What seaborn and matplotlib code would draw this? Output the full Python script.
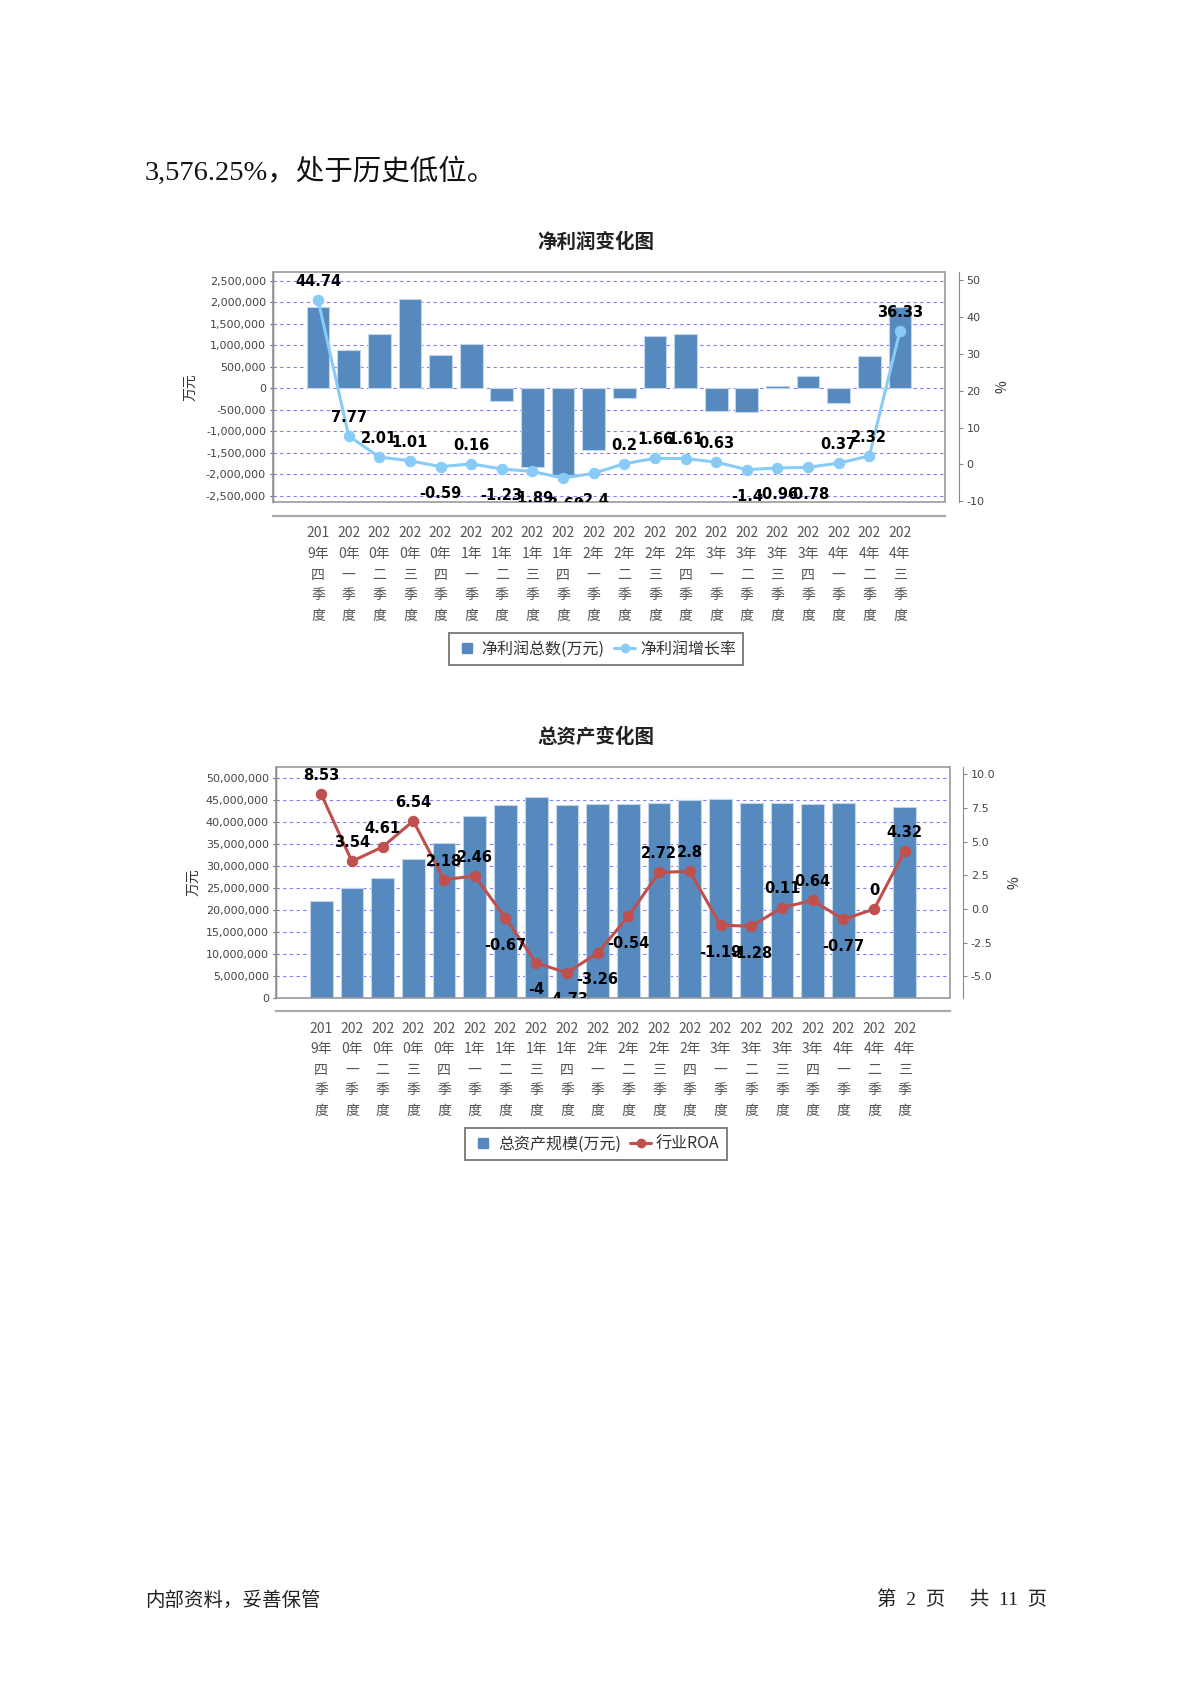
import numpy as np
import pandas as pd
import matplotlib
matplotlib.use("Agg")
import matplotlib.pyplot as plt
import seaborn as sns
from matplotlib.patches import Rectangle
from matplotlib.lines import Line2D
from matplotlib.ticker import FuncFormatter, MultipleLocator
from matplotlib.transforms import blended_transform_factory, ScaledTranslation

# ==============================
# DATA
# ==============================

quarters = [
    "2019年四季度", "2020年一季度", "2020年二季度", "2020年三季度", "2020年四季度",
    "2021年一季度", "2021年二季度", "2021年三季度", "2021年四季度", "2022年一季度",
    "2022年二季度", "2022年三季度", "2022年四季度", "2023年一季度", "2023年二季度",
    "2023年三季度", "2023年四季度", "2024年一季度", "2024年二季度", "2024年三季度",
]

# 净利润总数(万元)
net_profit = [1880000, 885000, 1258000, 2065000, 769000, 1025000, -295000, -1832000,
              -2019000, -1436000, -233000, 1203000, 1258000, -543000, -567000, 47000,
              287000, -342000, 753000, 1879000]
# 净利润增长率(%)
profit_growth = [44.74, 7.77, 2.01, 1.01, -0.59, 0.16, -1.23, -1.89, -3.69, -2.4,
                 0.2, 1.66, 1.61, 0.63, -1.4, -0.96, -0.78, 0.37, 2.32, 36.33]

# 总资产规模(万元), 2024 Q2 has no bar
total_assets = [22100000, 25000000, 27400000, 31700000, 35400000, 41500000, 43900000,
                45800000, 43900000, 44100000, 44100000, 44400000, 45000000, 45200000,
                44500000, 44500000, 44200000, 44400000, np.nan, 43600000]
# 行业ROA(%)
industry_roa = [8.53, 3.54, 4.61, 6.54, 2.18, 2.46, -0.67, -4, -4.73, -3.26,
                -0.54, 2.72, 2.8, -1.19, -1.28, 0.11, 0.64, -0.77, 0, 4.32]

# ==============================
# STYLE
# ==============================

W, H = 1191, 1684
BAR_COLOR = "#5689bd"
BAR_EDGE = "#c3d5ea"
GRID_COLOR = "#7d7dff"
CJK = "Noto Sans CJK SC"

sns.set_style("white")
plt.rcParams["font.family"] = ["DejaVu Sans", CJK]


def wrap_quarter(q):
    """JFreeChart-like wrap: '201' / '9年' / '四' / '季' / '度'."""
    year, rest = q.split("年")
    return f"{year[:3]}\n{year[3:]}年\n" + "\n".join(rest)


def px_rect(left, top, right, bottom):
    """Convert a pixel box on the page to a figure-fraction rect."""
    return [left / W, 1 - bottom / H, (right - left) / W, (bottom - top) / H]


def draw_chart(fig, box, bars, line, line_color, left_lim, left_step, left_fmt,
               right_lim, right_step, right_fmt, names, title, title_y, legend_y,
               outward, pct_x):
    ax1 = fig.add_axes(px_rect(*box))
    n = len(quarters)
    df = pd.DataFrame({"quarter": quarters, "value": bars})
    sns.barplot(data=df, x="quarter", y="value", ax=ax1, color=BAR_COLOR,
                saturation=1, width=0.74, edgecolor=BAR_EDGE, linewidth=0.8,
                errorbar=None)

    ax2 = ax1.twinx()
    idx = np.arange(n)
    sns.lineplot(x=idx, y=line, ax=ax2, color=line_color, marker="o",
                 markersize=7.5, markeredgecolor=line_color, linewidth=2.2,
                 legend=False)

    # value labels, clipped by the plot area like the original
    for i, v in enumerate(line):
        up = v >= 0
        ax2.annotate(f"{v:g}", (i, v), xytext=(0, 8 if up else -14),
                     textcoords="offset points", ha="center",
                     va="bottom" if up else "top", fontsize=10.5,
                     fontweight="bold", color="black", clip_on=True)

    ax1.set_xlim(-1.47, n - 1 + 1.47)
    ax1.set_ylim(*left_lim)
    ax2.set_ylim(*right_lim)
    ax1.yaxis.set_major_locator(MultipleLocator(left_step))
    ax1.yaxis.set_major_formatter(FuncFormatter(left_fmt))
    ax2.yaxis.set_major_locator(MultipleLocator(right_step))
    ax2.yaxis.set_major_formatter(FuncFormatter(right_fmt))

    ax1.set_axisbelow(True)
    ax1.yaxis.grid(True, color=GRID_COLOR, linestyle=(0, (3, 3)), linewidth=0.8)
    ax1.xaxis.grid(False)

    # category labels: wrapped column of text under each tick
    ax1.set_xticks(idx)
    ax1.tick_params(axis="x", length=3, color="#999999", labelbottom=False)
    lab_trans = blended_transform_factory(ax1.transData, ax1.transAxes) + \
        ScaledTranslation(0, -(outward + 7.5) / 72, fig.dpi_scale_trans)
    for i, q in enumerate(quarters):
        ax1.text(i, 0, wrap_quarter(q), transform=lab_trans, ha="center",
                 va="top", fontfamily=CJK, fontsize=10, color="#555555",
                 linespacing=1.6, clip_on=False)

    ax1.tick_params(axis="y", length=2, color="#666666", pad=3, labelsize=8,
                    labelcolor="#444444")
    ax2.tick_params(axis="y", length=3, color="#888888", pad=2.5, labelsize=8,
                    labelcolor="#444444")

    # frame + offset axes
    for s in ["top", "right"]:
        ax1.spines[s].set_visible(False)
    for s in ["top", "left", "bottom"]:
        ax2.spines[s].set_visible(False)
    ax1.spines["left"].set_color("#555555")
    ax1.spines["left"].set_linewidth(1.0)
    ax1.spines["bottom"].set_position(("outward", outward))
    ax1.spines["bottom"].set_color("#aaaaaa")
    ax1.spines["bottom"].set_linewidth(1.6)
    ax2.spines["right"].set_position(("outward", outward))
    ax2.spines["right"].set_color("#888888")
    ax1.add_patch(Rectangle((0, 0), 1, 1, transform=ax1.transAxes, fill=False,
                            edgecolor="#999999", linewidth=1.2, clip_on=False,
                            zorder=5))

    ax1.set_xlabel("")
    ax1.set_ylabel("万元", fontfamily=CJK, fontsize=10, color="#333333")
    ax1.yaxis.set_label_coords(-0.112, 0.5)
    ax2.set_ylabel("%", fontfamily=CJK, fontsize=10, color="#333333", rotation=90)
    ax2.yaxis.set_label_coords(pct_x, 0.5)

    fig.text(596 / W, 1 - title_y / H, title, ha="center", va="center",
             fontfamily=CJK, fontsize=14, fontweight="bold", color="#222222")

    handles = [
        Line2D([], [], marker="s", linestyle="none", color=BAR_COLOR, markersize=7.5),
        Line2D([], [], marker="o", color=line_color, linewidth=2.2, markersize=6),
    ]
    leg = fig.legend(handles, names, loc="center",
                     bbox_to_anchor=(596 / W, 1 - legend_y / H), ncol=2,
                     frameon=True, fancybox=False, edgecolor="#555555",
                     prop={"family": CJK, "size": 11.5}, labelcolor="#333333",
                     handlelength=1.3, handletextpad=0.3, columnspacing=0.6,
                     borderpad=0.45, borderaxespad=0)
    leg.get_frame().set_linewidth(1.3)
    return ax1, ax2


fig = plt.figure(figsize=(W / 100, H / 100), dpi=100)

# text lines of the report page
fig.text(145 / W, 1 - 172 / H, "3,576.25%，处于历史低位。", ha="left", va="center",
         fontsize=20.5, family=["Liberation Serif", CJK], color="#111111")
fig.text(145 / W, 1 - 1600 / H, "内部资料，妥善保管", ha="left", va="center",
         fontsize=14, family=[CJK], color="#222222")
fig.text(1047 / W, 1 - 1600 / H, "第  2  页     共  11  页", ha="right", va="center",
         fontsize=14, family=["Liberation Serif", CJK], color="#222222")

draw_chart(fig, (273, 272, 945, 502), net_profit, profit_growth, "#88cbf7",
           (-2650000, 2700000), 500000, lambda v, p: f"{v:,.0f}",
           (-10.2, 52.3), 10, lambda v, p: f"{v:.0f}",
           ["净利润总数(万元)", "净利润增长率"], "净利润变化图", 242, 649, 10, 1.075)

draw_chart(fig, (276, 767, 950, 998), total_assets, industry_roa, "#c0504d",
           (0, 52600000), 5000000, lambda v, p: f"{v:,.0f}",
           (-6.6, 10.54), 2.5, lambda v, p: f"{v:.1f}",
           ["总资产规模(万元)", "行业ROA"], "总资产变化图", 737, 1144, 9.5, 1.085)

fig.savefig("out.png", dpi=100)
